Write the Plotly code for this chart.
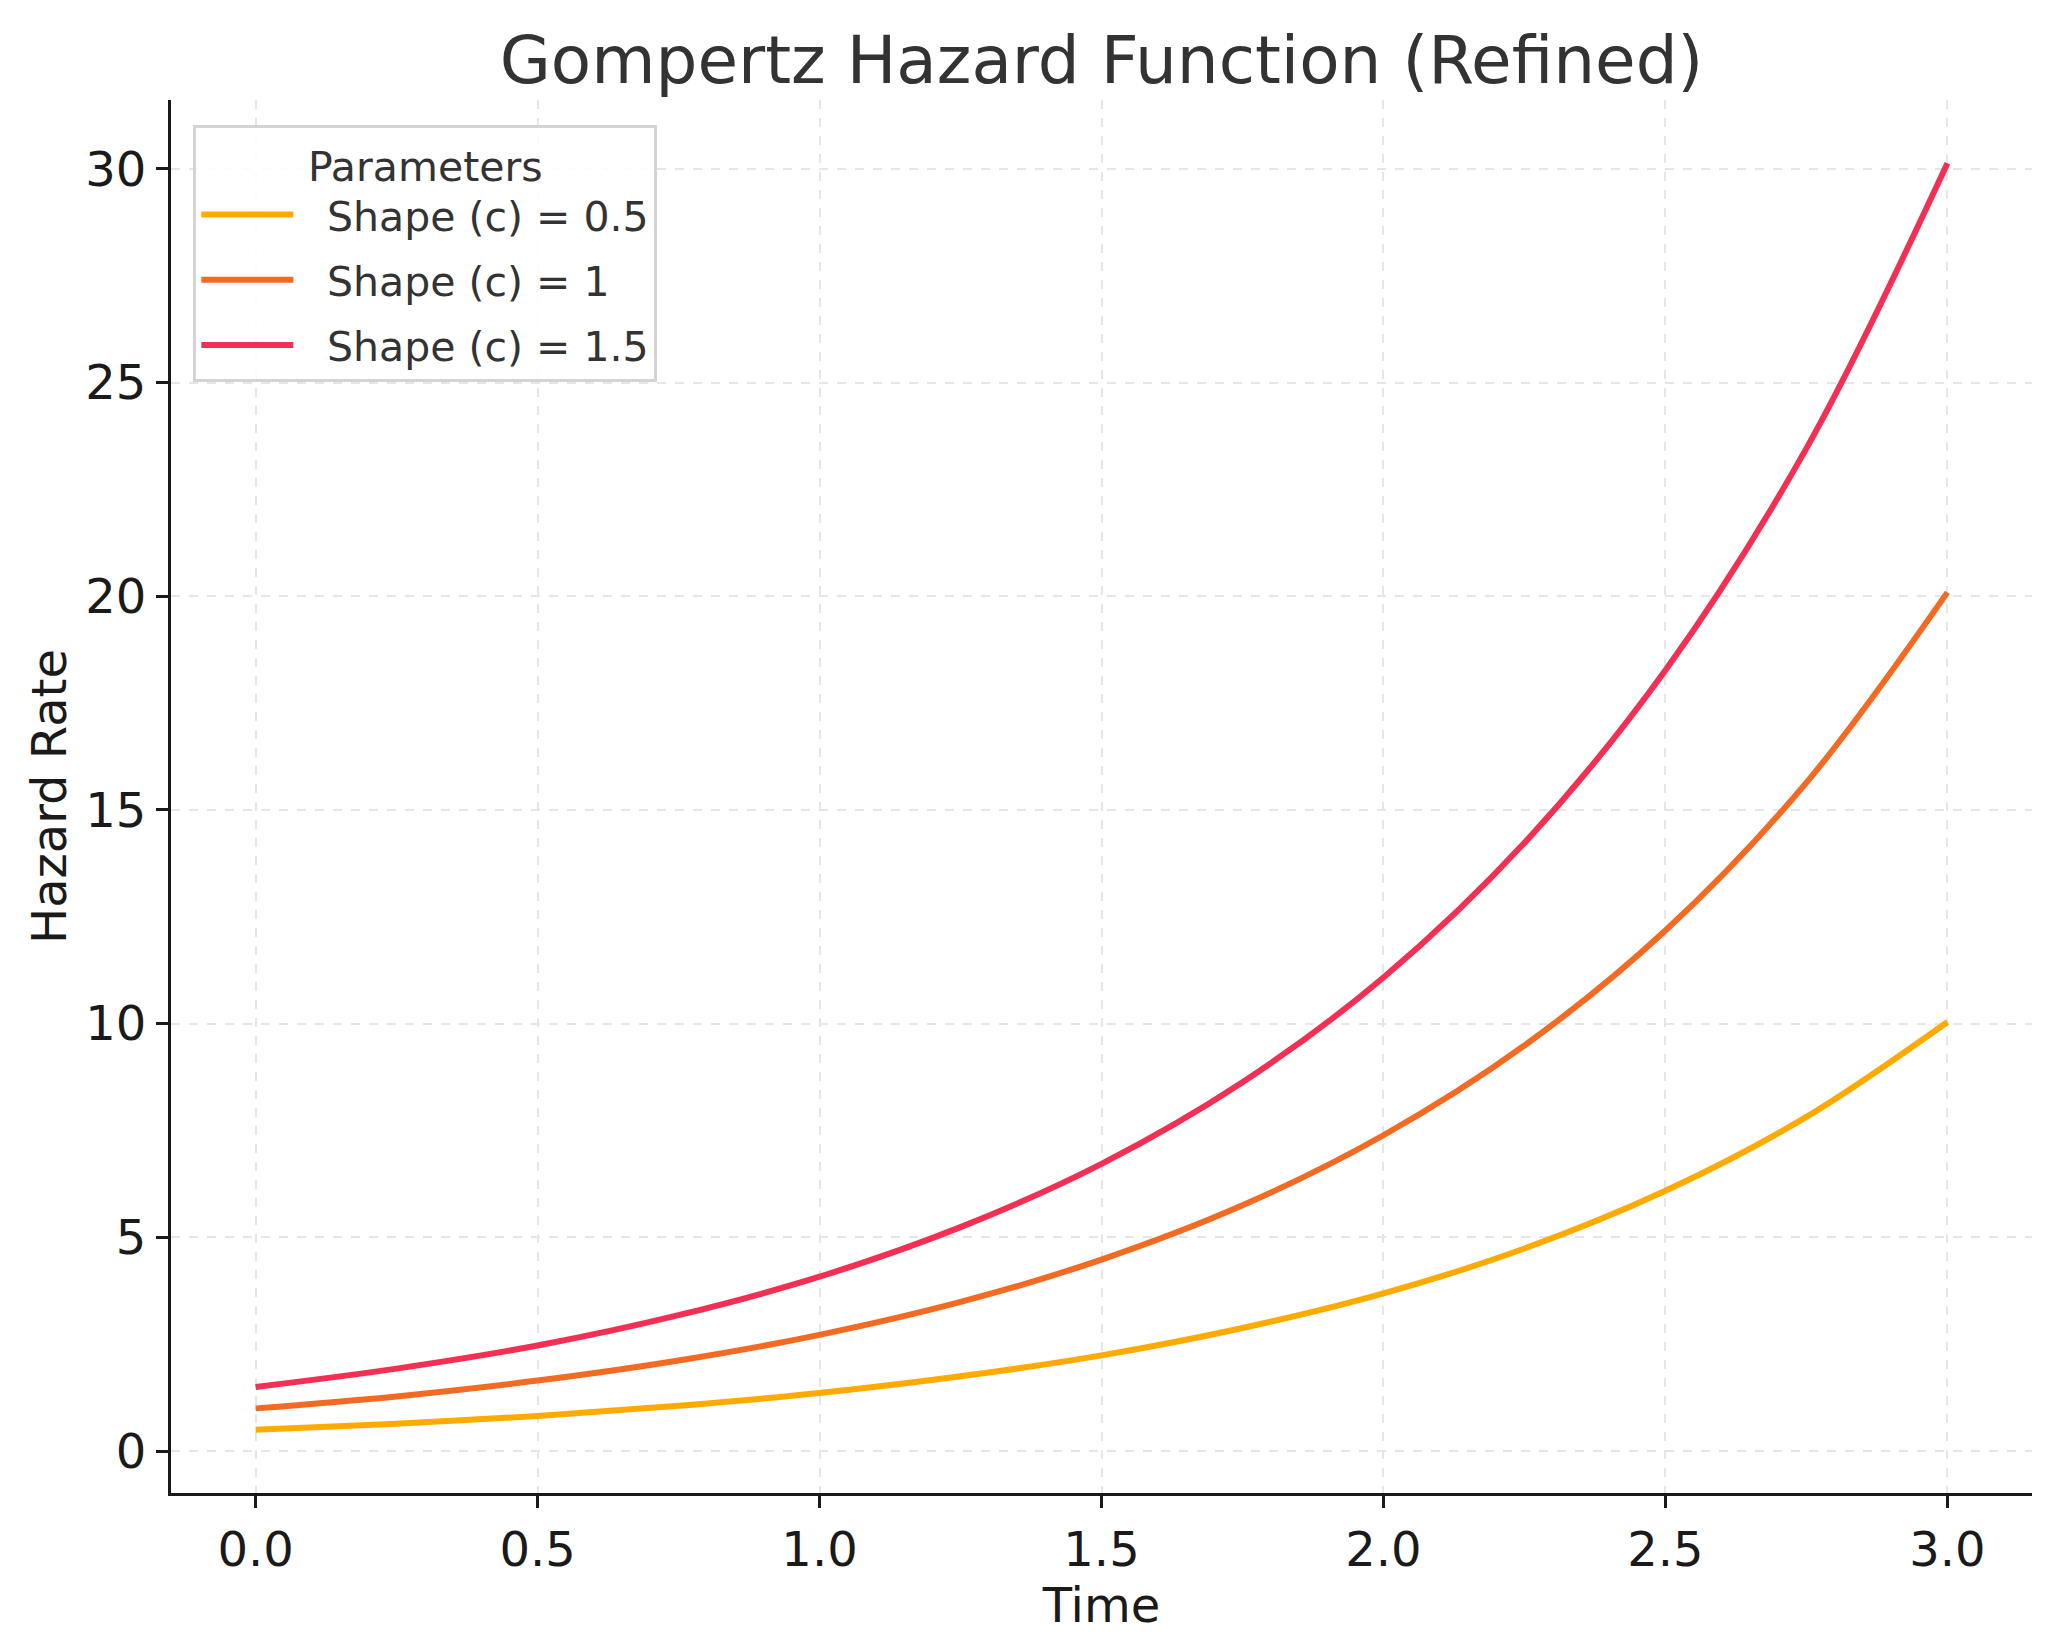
import plotly.graph_objects as go

# Time points and hazard values
time = [0.0, 0.25, 0.5, 0.75, 1.0, 1.25, 1.5, 1.75, 2.0, 2.25, 2.5, 2.75, 3.0]
hazard_c05 = [0.50, 0.64, 0.82, 1.06, 1.36, 1.75, 2.24, 2.88, 3.69, 4.74, 6.09, 7.82, 10.04]
hazard_c10 = [1.00, 1.28, 1.65, 2.12, 2.72, 3.49, 4.48, 5.75, 7.39, 9.49, 12.18, 15.64, 20.09]
hazard_c15 = [1.50, 1.93, 2.47, 3.18, 4.08, 5.24, 6.72, 8.63, 11.08, 14.23, 18.27, 23.46, 30.13]

series_names = ["Shape (c) = 0.5", "Shape (c) = 1", "Shape (c) = 1.5"]
series_values = [hazard_c05, hazard_c10, hazard_c15]
colors = ["#FFAA00", "#F36A22", "#F32F54"]

x_ticks = [0.0, 0.5, 1.0, 1.5, 2.0, 2.5, 3.0]
x_tick_labels = ["0.0", "0.5", "1.0", "1.5", "2.0", "2.5", "3.0"]
y_ticks = [0, 5, 10, 15, 20, 25, 30]
y_tick_labels = ["0", "5", "10", "15", "20", "25", "30"]

FONT = "DejaVu Sans"

fig = go.Figure()
for i, (name, vals, col) in enumerate(zip(series_names, series_values, colors)):
    fig.add_trace(go.Scatter(
        x=time, y=vals, mode="lines", name="\u2002\u2009" + name,
        legendgroup=f"g{i}",
        line=dict(color=col, width=6, shape="spline", smoothing=1.0),
    ))

axis_common = dict(
    showline=True, linecolor="#1a1a1a", linewidth=3.3,
    ticks="outside", ticklen=12, tickwidth=3, tickcolor="#1a1a1a",
    showgrid=True, gridcolor="#e6e6e6", gridwidth=2, griddash="dash",
    zeroline=False, mirror=False,
    tickfont=dict(family=FONT, size=48, color="#1a1a1a"),
)

fig.update_layout(
    width=2062, height=1650,
    margin=dict(l=171, r=30, t=100, b=157, autoexpand=False),
    paper_bgcolor="white", plot_bgcolor="white",
    font=dict(family=FONT, color="#1a1a1a"),
    title=dict(
        text="Gompertz Hazard Function (Refined)",
        font=dict(family=FONT, size=66, color="#333333"),
        x=0.5342, xanchor="center", y=0.964, yanchor="middle",
    ),
    xaxis=dict(
        **axis_common,
        range=[-0.15, 3.15],
        tickvals=x_ticks, ticktext=x_tick_labels,
        title=dict(text="Time", font=dict(family=FONT, size=48, color="#1a1a1a"), standoff=5),
    ),
    yaxis=dict(
        **axis_common,
        range=[-0.98, 31.61],
        tickvals=y_ticks, ticktext=y_tick_labels,
        title=dict(text="Hazard Rate", font=dict(family=FONT, size=48, color="#1a1a1a"), standoff=4),
    ),
    legend=dict(
        x=0.012, y=0.982, xanchor="left", yanchor="top",
        bgcolor="rgba(255,255,255,0.85)", bordercolor="#d4d4d4", borderwidth=3,
        font=dict(family=FONT, size=41, color="#333333"),
        title=dict(text="Parameters", side="top center",
                   font=dict(family=FONT, size=41, color="#333333")),
        itemwidth=92,
        tracegroupgap=9,
        traceorder="grouped",
    ),
    showlegend=True,
)

fig.write_html("out.html")
